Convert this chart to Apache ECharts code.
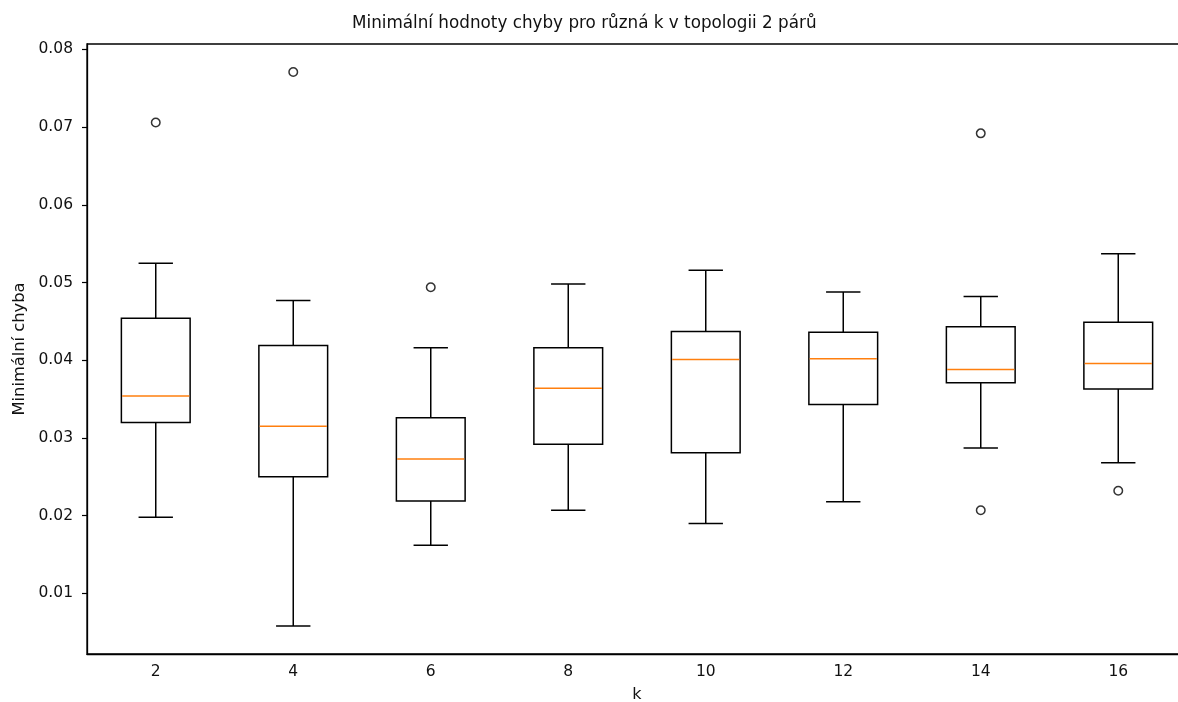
<!DOCTYPE html>
<html>
<head>
<meta charset="utf-8">
<script src="https://cdn.jsdelivr.net/npm/echarts@6/dist/echarts.min.js"></script>
<style>
html,body{margin:0;padding:0;background:#fff;overflow:hidden;}
#chart{width:1178px;height:702px;}
</style>
</head>
<body>
<div id="chart"></div>
<script>
const categories = ['2', '4', '6', '8', '10', '12', '14', '16'];
const whiskerLow = [0.0198, 0.0058, 0.0162, 0.0207, 0.0190, 0.0218, 0.0287, 0.0268];
const q1Values   = [0.0320, 0.0250, 0.0219, 0.0292, 0.0281, 0.0343, 0.0371, 0.0363];
const medians    = [0.0354, 0.0315, 0.0273, 0.0364, 0.0401, 0.0402, 0.0388, 0.0396];
const q3Values   = [0.0454, 0.0419, 0.0326, 0.0416, 0.0437, 0.0436, 0.0443, 0.0449];
const whiskerHigh= [0.0525, 0.0477, 0.0416, 0.0498, 0.0516, 0.0488, 0.0482, 0.0537];
const outlierCategories = ['2', '4', '6', '14', '14', '16'];
const outlierValues     = [0.0706, 0.0771, 0.0494, 0.0692, 0.0207, 0.0232];
const yTickValues = [0.01, 0.02, 0.03, 0.04, 0.05, 0.06, 0.07, 0.08];

const boxData = categories.map((c, i) => [i, whiskerLow[i], q1Values[i], medians[i], q3Values[i], whiskerHigh[i]]);
const outlierData = outlierCategories.map((c, i) => [c, outlierValues[i]]);

const LW = 1.5;
const chart = echarts.init(document.getElementById('chart'), null, {renderer: 'canvas'});
chart.setOption({
  animation: false,
  backgroundColor: '#ffffff',
  textStyle: {fontFamily: 'DejaVu Sans'},
  title: {
    text: 'Minimální hodnoty chyby pro různá k v topologii 2 párů',
    left: 347, top: 10,
    textStyle: {fontFamily: 'DejaVu Sans', fontSize: 16.8, fontWeight: 'normal', color: '#111'}
  },
  grid: {left: 87, top: 44, width: 1100, bottom: 48, outerBoundsMode: 'none', containLabel: false,
    show: true, borderColor: '#000', borderWidth: 1.3, backgroundColor: 'transparent'},
  xAxis: {
    type: 'category',
    data: categories,
    boundaryGap: true,
    name: 'k',
    nameLocation: 'middle',
    nameGap: 33,
    nameTextStyle: {fontFamily: 'DejaVu Sans', fontSize: 16, color: '#111'},
    axisLine: {lineStyle: {color: '#000', width: 1.3}},
    axisTick: {alignWithLabel: true, length: 5, lineStyle: {color: '#000', width: 1.2}},
    axisLabel: {margin: 10, fontFamily: 'DejaVu Sans', fontSize: 15.5, color: '#111'},
    splitLine: {show: false}
  },
  yAxis: {
    type: 'value',
    min: 0.0022,
    max: 0.0807,
    name: 'Minimální chyba',
    nameLocation: 'middle',
    nameGap: 59,
    nameTextStyle: {fontFamily: 'DejaVu Sans', fontSize: 16.3, color: '#111'},
    axisLine: {show: true, lineStyle: {color: '#000', width: 1.3}},
    axisTick: {show: true, length: 5, customValues: yTickValues, lineStyle: {color: '#000', width: 1.2}},
    axisLabel: {margin: 14, customValues: yTickValues, fontFamily: 'DejaVu Sans', fontSize: 15.5, color: '#111',
      formatter: v => v.toFixed(2)},
    splitLine: {show: false}
  },
  series: [
    {
      type: 'custom',
      data: boxData,
      encode: {x: 0, y: [1, 2, 3, 4, 5]},
      renderItem: function (params, api) {
        const idx = api.value(0);
        const band = api.size([1, 0])[0];
        const hw = band * 0.25;
        const cw = band * 0.125;
        const pLow = api.coord([idx, api.value(1)]);
        const pQ1 = api.coord([idx, api.value(2)]);
        const pMed = api.coord([idx, api.value(3)]);
        const pQ3 = api.coord([idx, api.value(4)]);
        const pHigh = api.coord([idx, api.value(5)]);
        const x = pQ1[0];
        const black = {stroke: '#000', lineWidth: LW, fill: null};
        return {
          type: 'group',
          children: [
            {type: 'line', shape: {x1: x, y1: pLow[1], x2: x, y2: pQ1[1]}, style: black},
            {type: 'line', shape: {x1: x, y1: pQ3[1], x2: x, y2: pHigh[1]}, style: black},
            {type: 'line', shape: {x1: x - cw, y1: pLow[1], x2: x + cw, y2: pLow[1]}, style: black},
            {type: 'line', shape: {x1: x - cw, y1: pHigh[1], x2: x + cw, y2: pHigh[1]}, style: black},
            {type: 'rect', shape: {x: x - hw, y: pQ3[1], width: hw * 2, height: pQ1[1] - pQ3[1]}, style: {stroke: '#000', lineWidth: LW, fill: 'rgba(0,0,0,0)'}},
            {type: 'line', shape: {x1: x - hw + 0.8, y1: pMed[1], x2: x + hw - 0.8, y2: pMed[1]}, style: {stroke: '#ff7f0e', lineWidth: LW}}
          ]
        };
      },
      z: 3
    },
    {
      type: 'scatter',
      data: outlierData,
      symbol: 'circle',
      symbolSize: 8.5,
      itemStyle: {color: 'rgba(0,0,0,0)', borderColor: '#000', borderWidth: 1.5},
      z: 4
    }
  ]
});
</script>
</body>
</html>
